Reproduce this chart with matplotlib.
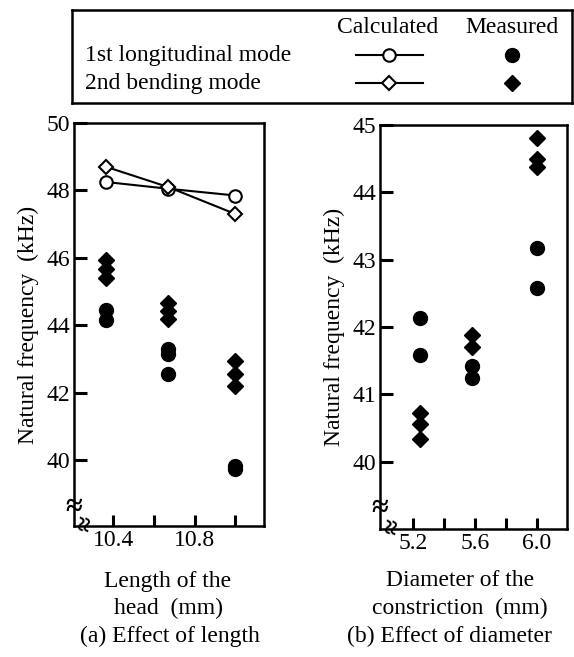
import matplotlib.pyplot as plt

plt.rcParams['font.family'] = ['Liberation Serif', 'DejaVu Serif']
plt.rcParams['font.size'] = 17

# Данные: (a) длина головки
length = [10.365, 10.67, 11.0]
calc_long_a = [48.25, 48.05, 47.85]
calc_bend_a = [48.7, 48.1, 47.3]
meas_long_a = [[44.45, 44.15], [43.3, 43.15, 42.57], [39.82, 39.75]]
meas_bend_a = [[45.93, 45.67, 45.4], [44.66, 44.42, 44.2], [42.95, 42.55, 42.2]]

# Данные: (b) диаметр сужения
diameter = [5.245, 5.58, 6.0]
meas_long_b = [[42.13, 41.58], [41.42, 41.25], [43.17, 42.58]]
meas_bend_b = [[40.72, 40.56, 40.34], [41.88, 41.7], [44.81, 44.5, 44.37]]

W, H = 574, 657
fig = plt.figure(figsize=(W / 100, H / 100), dpi=100)


def px_box(x0, y0, x1, y1):
    return [x0 / W, 1 - y1 / H, (x1 - x0) / W, (y1 - y0) / H]


def style(ax):
    for s in ax.spines.values():
        s.set_linewidth(1.8)
    ax.tick_params(axis='y', direction='in', length=9.5, width=2.2, pad=3)
    ax.tick_params(axis='x', direction='in', length=8, width=2.2, pad=3)
    ax.tick_params(top=False, right=False)


def measured(ax, xs, groups, marker, ms):
    for x, ys in zip(xs, groups):
        ax.plot([x] * len(ys), ys, linestyle='none', marker=marker,
                color='black', markersize=ms, clip_on=False)


def breaks(ax, yb, xb):
    ax.text(0, yb, '≈', transform=ax.transAxes, ha='center', va='center',
            fontsize=22, fontweight='bold', clip_on=False)
    ax.text(xb, 0.005, '≈', transform=ax.transAxes, ha='center', va='center',
            fontsize=20, fontweight='bold', rotation=80, clip_on=False)


# (a)
ax1 = fig.add_axes(px_box(74, 123, 264, 526))
ax1.plot(length, calc_long_a, color='black', lw=1.5, marker='o', ms=9,
         mfc='white', mec='black', mew=1.5, clip_on=False)
ax1.plot(length, calc_bend_a, color='black', lw=1.5, marker='D', ms=7.5,
         mfc='white', mec='black', mew=1.5, clip_on=False)
measured(ax1, length, meas_long_a, 'o', 10)
measured(ax1, length, meas_bend_a, 'D', 8)
ax1.set_xlim(10.207, 11.14)
ax1.set_ylim(38.05, 50)
ax1.set_yticks([40, 42, 44, 46, 48, 50])
ax1.set_xticks([10.4, 10.6, 10.8, 11.0])
ax1.set_xticklabels(['10.4', '', '10.8', ''])
ax1.set_ylabel('Natural frequency  (kHz)')
ax1.yaxis.set_label_coords(-0.185, 0.5)
style(ax1)
breaks(ax1, 0.045, 0.07)

# (b)
ax2 = fig.add_axes(px_box(380, 125, 567, 529))
measured(ax2, diameter, meas_long_b, 'o', 10)
measured(ax2, diameter, meas_bend_b, 'D', 8)
ax2.set_xlim(4.985, 6.195)
ax2.set_ylim(39.0, 45)
ax2.set_yticks([40, 41, 42, 43, 44, 45])
ax2.set_xticks([5.2, 5.4, 5.6, 5.8, 6.0])
ax2.set_xticklabels(['5.2', '', '5.6', '', '6.0'])
ax2.set_ylabel('Natural frequency  (kHz)')
ax2.yaxis.set_label_coords(-0.185, 0.5)
style(ax2)
breaks(ax2, 0.05, 0.075)

# Подписи осей и рисунков
fig.text(168 / W, 1 - 581 / H, 'Length of the', ha='center', va='center')
fig.text(168 / W, 1 - 608 / H, 'head  (mm)', ha='center', va='center')
fig.text(460 / W, 1 - 581 / H, 'Diameter of the', ha='center', va='center')
fig.text(460 / W, 1 - 608 / H, 'constriction  (mm)', ha='center', va='center')
fig.text(170 / W, 1 - 636 / H, '(a) Effect of length', ha='center', va='center')
fig.text(449 / W, 1 - 636 / H, '(b) Effect of diameter', ha='center', va='center')

# Легенда
lg = fig.add_axes(px_box(72, 10, 572, 103))
lg.set_xlim(72, 572)
lg.set_ylim(103, 10)
lg.set_xticks([])
lg.set_yticks([])
for s in lg.spines.values():
    s.set_linewidth(1.8)
lg.text(388, 28, 'Calculated', ha='center', va='center')
lg.text(512, 28, 'Measured', ha='center', va='center')
lg.text(85, 55, '1st longitudinal mode', ha='left', va='center')
lg.text(85, 83, '2nd bending mode', ha='left', va='center')
lg.plot([356, 423], [55, 55], color='black', lw=1.5)
lg.plot([389], [55], marker='o', ms=9, mfc='white', mec='black', mew=1.5)
lg.plot([356, 423], [83, 83], color='black', lw=1.5)
lg.plot([389], [83], marker='D', ms=7.5, mfc='white', mec='black', mew=1.5)
lg.plot([512], [55], marker='o', ms=10, color='black')
lg.plot([512], [83], marker='D', ms=8, color='black')

plt.savefig('out.png', dpi=100)
